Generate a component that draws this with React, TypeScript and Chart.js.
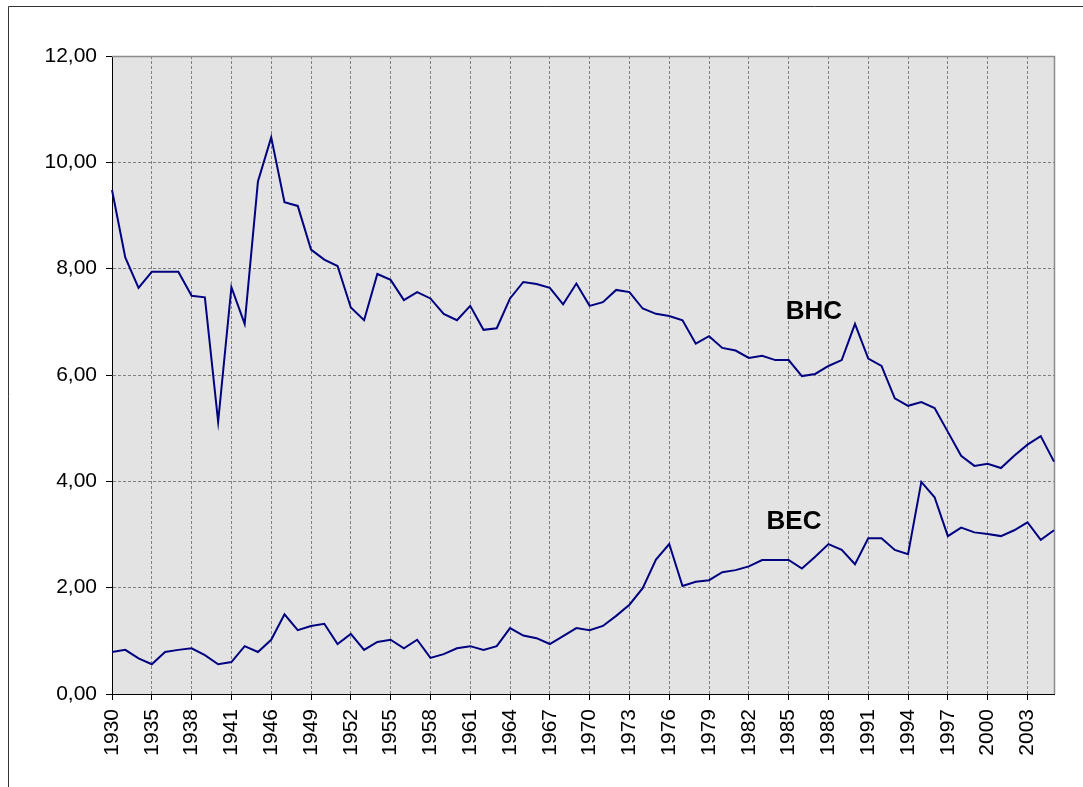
import React, { useEffect, useRef } from "react";
import { Chart, registerables } from "chart.js";

Chart.register(...registerables);

const YEARS: string[] = [
  "1930", "1932", "1934", "1935", "1936", "1937", "1938", "1939", "1940", "1941", "1943", "1945",
  "1946", "1947", "1948", "1949", "1950", "1951", "1952", "1953", "1954", "1955", "1956", "1957",
  "1958", "1959", "1960", "1961", "1962", "1963", "1964", "1965", "1966", "1967", "1968", "1969",
  "1970", "1971", "1972", "1973", "1974", "1975", "1976", "1977", "1978", "1979", "1980", "1981",
  "1982", "1983", "1984", "1985", "1986", "1987", "1988", "1989", "1990", "1991", "1992", "1993",
  "1994", "1995", "1996", "1997", "1998", "1999", "2000", "2001", "2002", "2003", "2004", "2005",
];

const BHC: number[] = [
  9.48, 8.21, 7.64, 7.94, 7.94, 7.94, 7.49, 7.46, 5.12, 7.65, 6.96, 9.64,
  10.47, 9.25, 9.18, 8.36, 8.17, 8.05, 7.27, 7.03, 7.9, 7.79, 7.41, 7.56,
  7.44, 7.15, 7.03, 7.3, 6.85, 6.88, 7.44, 7.75, 7.71, 7.64, 7.33, 7.72,
  7.3, 7.37, 7.6, 7.56, 7.25, 7.15, 7.11, 7.03, 6.59, 6.73, 6.51, 6.46,
  6.32, 6.36, 6.28, 6.28, 5.98, 6.02, 6.17, 6.28, 6.96, 6.31, 6.17, 5.56,
  5.42, 5.49, 5.38, 4.93, 4.48, 4.29, 4.33, 4.25, 4.48, 4.69, 4.85, 4.37,
];

const BEC: number[] = [
  0.79, 0.83, 0.67, 0.56, 0.79, 0.83, 0.86, 0.73, 0.56, 0.6, 0.9, 0.79,
  1.02, 1.5, 1.2, 1.28, 1.32, 0.94, 1.13, 0.83, 0.98, 1.02, 0.86, 1.02,
  0.68, 0.75, 0.86, 0.9, 0.83, 0.9, 1.24, 1.1, 1.05, 0.94, 1.09, 1.24,
  1.2, 1.28, 1.47, 1.68, 1.99, 2.53, 2.82, 2.03, 2.11, 2.14, 2.29, 2.33,
  2.4, 2.52, 2.52, 2.52, 2.36, 2.58, 2.82, 2.71, 2.44, 2.93, 2.93, 2.71,
  2.63, 3.99, 3.7, 2.97, 3.13, 3.04, 3.01, 2.97, 3.08, 3.23, 2.9, 3.08,
];

const SERIES_NAMES: string[] = ["BHC", "BEC"];
const Y_MIN = 0;
const Y_MAX = 12;
const Y_STEP = 2;
const LABEL_EVERY = 3;

// Label anchors (category index, value) for the in-chart series names
const NAME_ANCHORS: { index: number; value: number }[] = [
  { index: 52.9, value: 7.18 },
  { index: 51.4, value: 3.23 },
];

const FONT = '"Liberation Sans", Arial, Helvetica, sans-serif';
const LINE_COLOR = "#000080";

const decorPlugin = {
  id: "decor",
  beforeDraw(chart: any) {
    const { ctx, chartArea: a } = chart;
    ctx.save();
    ctx.fillStyle = "#ffffff";
    ctx.fillRect(0, 0, chart.width, chart.height);
    ctx.strokeStyle = "#333333";
    ctx.lineWidth = 1;
    ctx.beginPath();
    ctx.moveTo(8.5, chart.height);
    ctx.lineTo(8.5, 6.5);
    ctx.lineTo(chart.width, 6.5);
    ctx.stroke();
    ctx.fillStyle = "#e3e3e3";
    ctx.fillRect(a.left, a.top, a.right - a.left, a.bottom - a.top);
    ctx.restore();
  },
  beforeDatasetsDraw(chart: any) {
    const { ctx, chartArea: a } = chart;
    ctx.save();
    ctx.strokeStyle = "#8c8c8c";
    ctx.lineWidth = 1.5;
    ctx.beginPath();
    ctx.moveTo(a.left, a.top + 0.5);
    ctx.lineTo(a.right + 0.5, a.top + 0.5);
    ctx.lineTo(a.right + 0.5, a.bottom);
    ctx.stroke();
    ctx.restore();
  },
  afterDatasetsDraw(chart: any) {
    const { ctx } = chart;
    const xs = chart.scales.x;
    const ys = chart.scales.y;
    ctx.save();
    ctx.font = `bold 26px ${FONT}`;
    ctx.fillStyle = "#000000";
    ctx.textAlign = "center";
    ctx.textBaseline = "middle";
    NAME_ANCHORS.forEach((p, i) => {
      ctx.fillText(SERIES_NAMES[i], xs.getPixelForValue(p.index), ys.getPixelForValue(p.value));
    });
    ctx.restore();
  },
};

export default function App() {
  const ref = useRef<HTMLCanvasElement | null>(null);

  useEffect(() => {
    if (!ref.current) return;
    const chart = new Chart(ref.current, {
      type: "line",
      data: {
        labels: YEARS,
        datasets: [
          {
            label: SERIES_NAMES[0],
            data: BHC,
            borderColor: LINE_COLOR,
            borderWidth: 2,
            pointRadius: 0,
            tension: 0,
            fill: false,
          },
          {
            label: SERIES_NAMES[1],
            data: BEC,
            borderColor: LINE_COLOR,
            borderWidth: 2,
            pointRadius: 0,
            tension: 0,
            fill: false,
          },
        ],
      },
      options: {
        animation: false,
        responsive: false,
        devicePixelRatio: 1,
        layout: { padding: { left: 0, top: 56, right: 29, bottom: 0 } },
        plugins: {
          legend: { display: false },
          title: { display: false },
          tooltip: { enabled: false },
        },
        scales: {
          x: {
            type: "category",
            offset: false,
            grid: {
              color: "#808080",
              lineWidth: 1,
              tickColor: "#000000",
              tickLength: 6,
              tickBorderDash: [],
            },
            border: { display: true, color: "#000000", width: 1, dash: [3, 2] },
            ticks: {
              autoSkip: false,
              minRotation: 90,
              maxRotation: 90,
              padding: 9,
              color: "#000000",
              font: { family: FONT, size: 21 },
            },
            afterBuildTicks: (s: any) => {
              s.ticks = s.ticks.filter((t: any) => t.value % LABEL_EVERY === 0);
            },
            afterFit: (s: any) => {
              s.height = 787 - 694;
            },
          },
          y: {
            min: Y_MIN,
            max: Y_MAX,
            grid: {
              color: "#808080",
              lineWidth: 1,
              tickColor: "#000000",
              tickLength: 6,
              tickBorderDash: [],
            },
            border: { display: true, color: "#000000", width: 1, dash: [3, 2] },
            ticks: {
              stepSize: Y_STEP,
              padding: 9,
              color: "#000000",
              font: { family: FONT, size: 21 },
              callback: (v: any) => Number(v).toFixed(2).replace(".", ","),
            },
            afterFit: (s: any) => {
              s.width = 112;
            },
          },
        },
      },
      plugins: [decorPlugin],
    });
    return () => chart.destroy();
  }, []);

  return (
    <div style={{ position: "absolute", left: 0, top: 0, width: 1083, height: 787 }}>
      <canvas ref={ref} width={1083} height={787} style={{ display: "block" }} />
    </div>
  );
}
